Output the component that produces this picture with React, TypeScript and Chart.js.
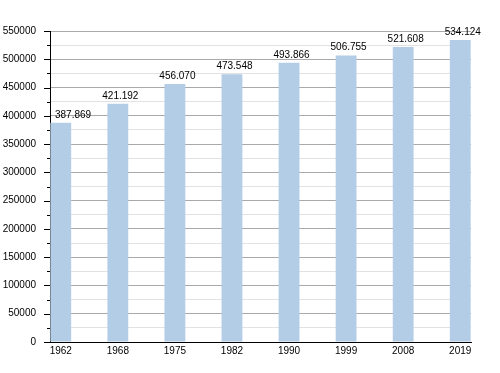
import React, { useEffect, useRef } from "react";
import { Chart, registerables } from "chart.js";

Chart.register(...registerables);

const years: string[] = ["1962", "1968", "1975", "1982", "1990", "1999", "2008", "2019"];
const population: number[] = [387869, 421192, 456070, 473548, 493866, 506755, 521608, 534124];
const valueLabels: string[] = ["387.869", "421.192", "456.070", "473.548", "493.866", "506.755", "521.608", "534.124"];
const yMax = 550000;
const yMinorStep = 25000;
const yMajorStep = 50000;

const FONT = "'Liberation Sans', Arial, sans-serif";

const tickMarksPlugin = {
  id: "tickMarks",
  afterDraw(chart: any) {
    const y = chart.scales.y;
    const ctx = chart.ctx;
    const left = chart.chartArea.left;
    ctx.save();
    ctx.strokeStyle = "#000";
    ctx.lineWidth = 1;
    y.ticks.forEach((t: any) => {
      const py = Math.round(y.getPixelForValue(t.value)) + 0.5;
      const len = t.value % yMajorStep === 0 ? 6 : 3;
      ctx.beginPath();
      ctx.moveTo(left - len, py);
      ctx.lineTo(left, py);
      ctx.stroke();
    });
    ctx.restore();
  },
};

const valueLabelPlugin = {
  id: "valueLabels",
  afterDatasetsDraw(chart: any) {
    const ctx = chart.ctx;
    const meta = chart.getDatasetMeta(0);
    ctx.save();
    ctx.font = `10px ${FONT}`;
    ctx.fillStyle = "#000";
    ctx.textBaseline = "alphabetic";
    ctx.textAlign = "left";
    meta.data.forEach((bar: any, i: number) => {
      const text = valueLabels[i];
      const w = ctx.measureText(text).width;
      let x = bar.x + 2.5 - w / 2;
      if (x < chart.chartArea.left + 5) x = chart.chartArea.left + 5;
      ctx.fillText(text, x, bar.y - 5);
    });
    ctx.restore();
  },
};

export default function App() {
  const canvasRef = useRef<HTMLCanvasElement | null>(null);

  useEffect(() => {
    document.body.style.margin = "0";
    const canvas = canvasRef.current;
    if (!canvas) return;
    const chart = new Chart(canvas, {
      type: "bar",
      data: {
        datasets: [
          {
            data: population.map((v, i) => ({ x: i, y: v })),
            backgroundColor: "rgb(179,205,230)",
            borderWidth: 0,
            categoryPercentage: 1,
            barPercentage: 0.365,
          } as any,
        ],
      },
      options: {
        animation: false,
        responsive: false,
        events: [],
        layout: { padding: { left: 0, right: 29, top: 31, bottom: 0 } },
        plugins: {
          legend: { display: false },
          tooltip: { enabled: false },
        },
        scales: {
          x: {
            type: "linear",
            offset: false,
            min: -0.1885,
            max: years.length - 1 + 0.1885,
            afterBuildTicks: (scale: any) => {
              scale.ticks = years.map((_, i) => ({ value: i }));
            },
            afterFit: (scale: any) => {
              scale.height = 31;
            },
            grid: { display: false, drawTicks: false, offset: false },
            border: { display: true, color: "#000", width: 1 },
            ticks: {
              padding: 3,
              color: "#000",
              font: { family: FONT, size: 10 },
              maxRotation: 0,
              autoSkip: false,
              callback: (v: any) => years[v] ?? "",
            },
          },
          y: {
            type: "linear",
            min: 0,
            max: yMax,
            afterFit: (scale: any) => {
              scale.width = 50;
            },
            grid: {
              drawTicks: false,
              color: (c: any) =>
                c.tick && c.tick.value % yMajorStep === 0 ? "#a9a9a9" : "#e2e2e2",
            },
            border: { display: true, color: "#000", width: 1 },
            ticks: {
              stepSize: yMinorStep,
              padding: 14,
              color: "#000",
              font: { family: FONT, size: 10 },
              autoSkip: false,
              callback: (v: any) => (Number(v) % yMajorStep === 0 ? String(v) : ""),
            },
          },
        },
      },
      plugins: [tickMarksPlugin, valueLabelPlugin],
    } as any);
    return () => chart.destroy();
  }, []);

  return (
    <div style={{ width: 500, height: 373, background: "#fff" }}>
      <canvas ref={canvasRef} width={500} height={373} />
    </div>
  );
}
